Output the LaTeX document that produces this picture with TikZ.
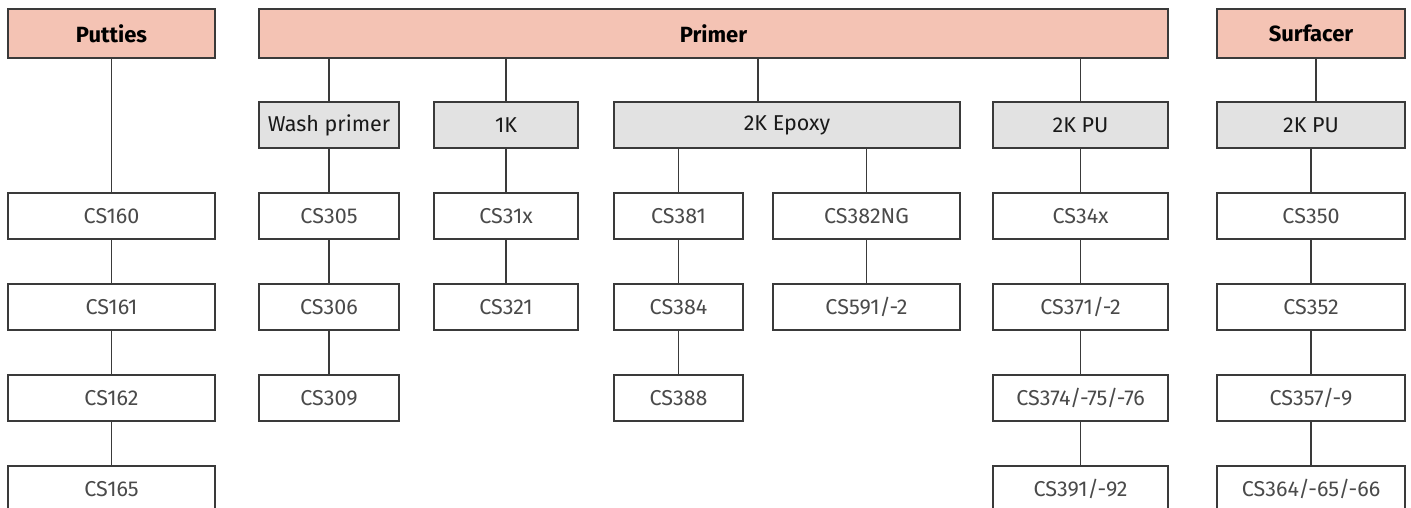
\documentclass[tikz,border=0pt]{standalone}
\usepackage{fontspec}
\setmainfont{Fira Sans}
\definecolor{hdr}{HTML}{F4C3B4}
\definecolor{sub}{HTML}{E2E2E2}
\definecolor{edge}{HTML}{3A3A3A}
\definecolor{ltxt}{HTML}{4A4A4A}
\begin{document}
\begin{tikzpicture}[x=1pt,y=-1pt,
  base/.style={draw=edge,line width=1.4pt,rectangle,inner sep=0pt,anchor=center,font=\fontsize{21.5}{24}\selectfont},
  hdrbox/.style={base,fill=hdr,minimum height=49pt,font=\fontsize{22}{24}\selectfont\bfseries},
  subbox/.style={base,fill=sub,minimum height=46pt,text=black!90},
  itembox/.style={base,fill=white,minimum height=46pt,text=ltxt},
  conn/.style={draw=edge,line width=1.4pt}]
\useasboundingbox (0,0) rectangle (1411,508);
% headers
\node[hdrbox,minimum width=207pt] (putties) at (111.5,33.5) {Putties};
\node[hdrbox,minimum width=909pt] (primer) at (713.5,33.5) {Primer};
\node[hdrbox,minimum width=188pt] (surfacer) at (1311,33.5) {Surfacer};
% sub categories
\node[subbox,minimum width=140pt] (wash) at (329,125) {Wash primer};
\node[subbox,minimum width=144pt] (onek) at (506,125) {1K};
\node[subbox,minimum width=346pt] (epoxy) at (787,125) {2K Epoxy};
\node[subbox,minimum width=175pt] (pu) at (1080.5,125) {2K PU};
\node[subbox,minimum width=188pt] (spu) at (1311,125) {2K PU};
% putties column
\node[itembox,minimum width=207pt] (cs160) at (111.5,216) {CS160};
\node[itembox,minimum width=207pt] (cs161) at (111.5,307) {CS161};
\node[itembox,minimum width=207pt] (cs162) at (111.5,398) {CS162};
\node[itembox,minimum width=207pt] (cs165) at (111.5,489) {CS165};
% wash primer column
\node[itembox,minimum width=140pt] (cs305) at (329,216) {CS305};
\node[itembox,minimum width=140pt] (cs306) at (329,307) {CS306};
\node[itembox,minimum width=140pt] (cs309) at (329,398) {CS309};
% 1K column
\node[itembox,minimum width=144pt] (cs31x) at (506,216) {CS31x};
\node[itembox,minimum width=144pt] (cs321) at (506,307) {CS321};
% 2K epoxy columns
\node[itembox,minimum width=129pt] (cs381) at (678.5,216) {CS381};
\node[itembox,minimum width=129pt] (cs384) at (678.5,307) {CS384};
\node[itembox,minimum width=129pt] (cs388) at (678.5,398) {CS388};
\node[itembox,minimum width=187pt] (cs382) at (866.5,216) {CS382NG};
\node[itembox,minimum width=187pt] (cs591) at (866.5,307) {CS591/-2};
% 2K PU column
\node[itembox,minimum width=175pt] (cs34x) at (1080.5,216) {CS34x};
\node[itembox,minimum width=175pt] (cs371) at (1080.5,307) {CS371/-2};
\node[itembox,minimum width=175pt] (cs374) at (1080.5,398) {CS374/-75/-76};
\node[itembox,minimum width=175pt] (cs391) at (1080.5,489) {CS391/-92};
% surfacer column
\node[itembox,minimum width=188pt] (cs350) at (1311,216) {CS350};
\node[itembox,minimum width=188pt] (cs352) at (1311,307) {CS352};
\node[itembox,minimum width=188pt] (cs357) at (1311,398) {CS357/-9};
\node[itembox,minimum width=188pt] (cs364) at (1311,489) {CS364/-65/-66};
% connectors
\coordinate (epx) at (758,0);
\coordinate (sfx) at (1316,0);
\draw[conn] (putties) -- (cs160);
\draw[conn] (cs160) -- (cs161);
\draw[conn] (cs161) -- (cs162);
\draw[conn] (cs162) -- (cs165);
\draw[conn] (primer.south -| wash.north) -- (wash.north);
\draw[conn] (primer.south -| onek.north) -- (onek.north);
\draw[conn] (primer.south -| epx) -- (epoxy.north -| epx);
\draw[conn] (primer.south -| pu.north) -- (pu.north);
\draw[conn] (surfacer.south -| sfx) -- (spu.north -| sfx);
\draw[conn] (wash) -- (cs305);
\draw[conn] (cs305) -- (cs306);
\draw[conn] (cs306) -- (cs309);
\draw[conn] (onek) -- (cs31x);
\draw[conn] (cs31x) -- (cs321);
\draw[conn] (epoxy.south -| cs381.north) -- (cs381.north);
\draw[conn] (cs381) -- (cs384);
\draw[conn] (cs384) -- (cs388);
\draw[conn] (epoxy.south -| cs382.north) -- (cs382.north);
\draw[conn] (cs382) -- (cs591);
\draw[conn] (pu) -- (cs34x);
\draw[conn] (cs34x) -- (cs371);
\draw[conn] (cs371) -- (cs374);
\draw[conn] (cs374) -- (cs391);
\draw[conn] (spu) -- (cs350);
\draw[conn] (cs350) -- (cs352);
\draw[conn] (cs352) -- (cs357);
\draw[conn] (cs357) -- (cs364);
\end{tikzpicture}
\end{document}
